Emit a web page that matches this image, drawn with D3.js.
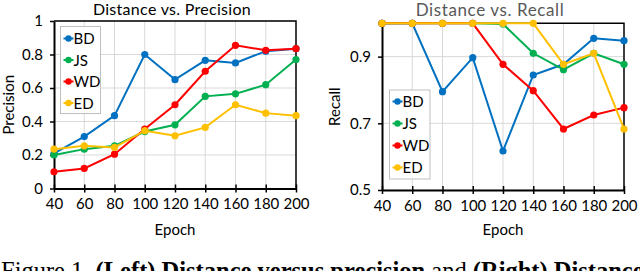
<!DOCTYPE html>
<html>
<head>
<meta charset="utf-8">
<script src="https://cdn.jsdelivr.net/npm/d3@7"></script>
<style>
  body { margin: 0; background: #fff; }
  svg { display: block; }
  .lbl { font-family: Lato, "Open Sans", sans-serif; }
</style>
</head>
<body>
<svg id="fig" width="640" height="271"></svg>
<script>
// --- Data ---
const epochs = [40, 60, 80, 100, 120, 140, 160, 180, 200];
const seriesNames = ["BD", "JS", "WD", "ED"];
const seriesColors = ["#0070C0", "#00B050", "#FF0000", "#FFC000"];

const precisionBD = [0.21, 0.31, 0.435, 0.80, 0.65, 0.765, 0.75, 0.82, 0.835];
const precisionJS = [0.20, 0.235, 0.255, 0.34, 0.38, 0.55, 0.565, 0.62, 0.77];
const precisionWD = [0.10, 0.12, 0.205, 0.355, 0.50, 0.70, 0.855, 0.825, 0.835];
const precisionED = [0.235, 0.255, 0.245, 0.345, 0.315, 0.365, 0.50, 0.45, 0.435];

const recallBD = [1.0, 1.0, 0.795, 0.897, 0.617, 0.845, 0.877, 0.955, 0.948];
const recallJS = [1.0, 1.0, 1.0, 1.0, 0.998, 0.91, 0.861, 0.91, 0.877];
const recallWD = [1.0, 1.0, 1.0, 1.0, 0.877, 0.798, 0.683, 0.725, 0.747];
const recallED = [1.0, 1.0, 1.0, 1.0, 1.0, 1.0, 0.877, 0.91, 0.683];

const precisionTicks = [0, 0.2, 0.4, 0.6, 0.8, 1];
const recallTicks = [0.5, 0.7, 0.9];

const svg = d3.select("#fig");

// --- Function that draws one panel ---
function drawPanel(cfg) {
    const x = d3.scaleLinear().domain([40, 200]).range([cfg.left, cfg.right]);
    const y = d3.scaleLinear().domain(cfg.yDomain).range([cfg.bottom, cfg.top]);
    const g = svg.append("g");

    // grid
    g.selectAll(".vgrid").data(epochs.slice(1, -1)).enter().append("line")
        .attr("x1", d => x(d)).attr("x2", d => x(d))
        .attr("y1", cfg.top).attr("y2", cfg.bottom)
        .attr("stroke", "#d9d9d9").attr("stroke-width", 1);
    g.selectAll(".hgrid").data(cfg.ticks).enter().append("line")
        .attr("x1", cfg.left).attr("x2", cfg.right)
        .attr("y1", d => y(d)).attr("y2", d => y(d))
        .attr("stroke", "#d9d9d9").attr("stroke-width", 1);

    // frame (top & right)
    g.append("path")
        .attr("d", `M${cfg.left},${cfg.top}H${cfg.right}V${cfg.bottom}`)
        .attr("fill", "none").attr("stroke", "#000").attr("stroke-width", 1.5);

    // axes
    const xAxis = d3.axisBottom(x).tickValues(epochs).tickSizeInner(4).tickSizeOuter(0).tickPadding(6);
    const gx = g.append("g").attr("transform", `translate(0,${cfg.bottom})`).call(xAxis);
    gx.select(".domain").attr("stroke", "#000").attr("stroke-width", 2);
    gx.selectAll(".tick line").attr("y1", -4).attr("stroke-width", 1.5);
    gx.selectAll("text").attr("font-size", 15).attr("fill", "#000").attr("class", "lbl");

    const yAxis = d3.axisLeft(y).tickValues(cfg.ticks).tickSizeInner(4).tickSizeOuter(0).tickPadding(7)
        .tickFormat(d3.format("~g"));
    const gy = g.append("g").attr("transform", `translate(${cfg.left},0)`).call(yAxis);
    gy.select(".domain").attr("stroke", "#000").attr("stroke-width", 2);
    gy.selectAll(".tick line").attr("stroke-width", 1.5);
    gy.selectAll("text").attr("font-size", 15).attr("fill", "#000").attr("class", "lbl");

    // lines & markers
    const line = d3.line().x((d, i) => x(epochs[i])).y(d => y(d));
    cfg.series.forEach((vals, k) => {
        g.append("path").datum(vals)
            .attr("d", line).attr("fill", "none")
            .attr("stroke", seriesColors[k]).attr("stroke-width", 2);
        g.selectAll(".pt" + k).data(vals).enter().append("circle")
            .attr("cx", (d, i) => x(epochs[i])).attr("cy", d => y(d))
            .attr("r", 3.6).attr("fill", seriesColors[k]);
    });

    // title & axis labels
    g.append("text").attr("class", "lbl").attr("x", cfg.titleX).attr("y", cfg.titleY)
        .attr("text-anchor", "middle").attr("font-size", cfg.titleSize)
        .style("letter-spacing", cfg.titleSpacing + "px")
        .attr("fill", cfg.titleColor).text(cfg.title);
    g.append("text").attr("class", "lbl").attr("x", (cfg.left + cfg.right) / 2).attr("y", 235)
        .attr("text-anchor", "middle").attr("font-size", 15).text("Epoch");
    g.append("text").attr("class", "lbl")
        .attr("transform", `translate(${cfg.yLabelX},${(cfg.top + cfg.bottom) / 2}) rotate(-90)`)
        .attr("text-anchor", "middle").attr("font-size", 15).text(cfg.yLabel);

    // legend
    const lg = cfg.legend;
    g.append("rect").attr("x", lg.x).attr("y", lg.y)
        .attr("width", lg.w).attr("height", lg.h)
        .attr("fill", "#fff").attr("stroke", "#bfbfbf").attr("stroke-width", 1);
    const item = g.selectAll(".leg").data(seriesNames).enter().append("g")
        .attr("transform", (d, i) => `translate(${lg.x},${lg.y + lg.first + i * lg.step})`);
    item.append("line").attr("x1", 3).attr("x2", 13).attr("y1", 0).attr("y2", 0)
        .attr("stroke", (d, i) => seriesColors[i]).attr("stroke-width", 2);
    item.append("circle").attr("cx", 8).attr("cy", 0).attr("r", 3.2)
        .attr("fill", (d, i) => seriesColors[i]);
    item.append("text").attr("class", "lbl").attr("x", 13).attr("y", 5.5)
        .attr("font-size", 15).text(d => d);
}

drawPanel({
    left: 54, right: 296, top: 21, bottom: 188.5,
    yDomain: [0, 1], ticks: precisionTicks,
    series: [precisionBD, precisionJS, precisionWD, precisionED],
    title: "Distance vs. Precision", titleX: 172, titleY: 15, titleSize: 16, titleSpacing: 0.3,
    titleColor: "#000",
    yLabel: "Precision", yLabelX: 14,
    legend: { x: 60.5, y: 26.5, w: 40, h: 87, first: 12, step: 21.5 }
});

drawPanel({
    left: 382, right: 624, top: 23.3, bottom: 190,
    yDomain: [0.5, 1], ticks: recallTicks,
    series: [recallBD, recallJS, recallWD, recallED],
    title: "Distance vs. Recall", titleX: 490, titleY: 16, titleSize: 17, titleSpacing: 0.6,
    titleColor: "#595959",
    yLabel: "Recall", yLabelX: 340,
    legend: { x: 389.5, y: 90, w: 40.5, h: 89, first: 11.5, step: 22 }
});

// caption (cut off at the bottom edge, as in the source figure)
const cap = svg.append("text").attr("x", 1).attr("y", 279)
    .style("font-family", "'Liberation Serif', 'Times New Roman', serif")
    .style("font-size", "24.5px").attr("fill", "#000");
cap.append("tspan").text("Figure 1. ");
cap.append("tspan").attr("font-weight", "bold").text("(Left) Distance versus precision");
cap.append("tspan").text(" and ");
cap.append("tspan").attr("font-weight", "bold").text("(Right) Distance");
</script>
</body>
</html>
